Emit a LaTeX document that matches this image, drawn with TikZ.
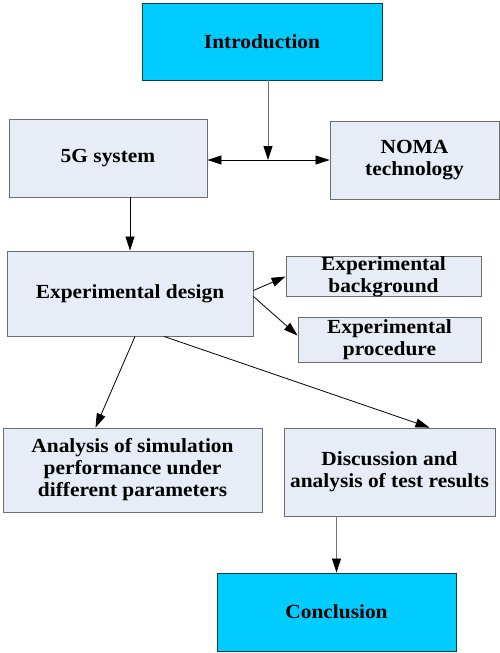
\documentclass[tikz,border=0pt]{standalone}
\usepackage{fontspec}
\setmainfont{Liberation Serif}[FakeStretch=1.07]
\usetikzlibrary{arrows.meta}
\definecolor{cyanbox}{RGB}{0,204,255}
\definecolor{lightbox}{RGB}{231,236,247}
\definecolor{edgegray}{RGB}{110,110,110}
\tikzset{
  box/.style={draw=edgegray, line width=0.9pt, fill=lightbox, align=center,
    font=\fontsize{20}{22}\selectfont\bfseries, inner sep=0pt},
  keybox/.style={box, fill=cyanbox, draw=black!70!cyanbox},
  arr/.style={-{Triangle[length=14pt,width=9pt]}, line width=0.8pt, black},
  grayarr/.style={-{Triangle[length=14pt,width=9pt,color=black]}, line width=0.8pt, draw=black!55}
}
\begin{document}
\begin{tikzpicture}[x=1pt,y=-1pt]
\useasboundingbox (0,0) rectangle (500,653);
\node[keybox, minimum width=240pt, minimum height=77pt] (intro) at (262,41.5) {Introduction};
\node[box, minimum width=198pt, minimum height=78pt] (g5) at (108,158) {5G system};
\node[box, minimum width=169pt, minimum height=78pt] (noma) at (414.5,160) {NOMA\\technology};
\node[box, minimum width=246pt, minimum height=85pt] (design) at (130,293.5) {Experimental design};
\node[box, minimum width=195pt, minimum height=39pt] (bg) at (383.5,276.5) {Experimental\\background};
\node[box, minimum width=183pt, minimum height=45pt] (proc) at (389.5,339.5) {Experimental\\procedure};
\node[box, minimum width=259pt, minimum height=84pt] (analysis) at (132.5,470) {Analysis of simulation\\performance under\\different parameters};
\node[box, minimum width=211pt, minimum height=88pt] (disc) at (389.5,472) {Discussion and\\analysis of test results};
\node[keybox, minimum width=239pt, minimum height=78pt] (concl) at (336.5,612) {Conclusion};
\coordinate (junction) at (268,160);
\draw[grayarr] (intro.south -| junction) -- (junction);
\draw[arr] (junction) -- (g5.east |- junction);
\draw[arr] (junction) -- (noma.west |- junction);
\draw[arr] (design.north |- g5.south) -- (design.north);
\draw[arr] ([yshift=3pt]design.east) -- (bg.west);
\draw[arr] ([yshift=-3pt]design.east) -- ([yshift=4pt]proc.west);
\draw[arr] ([xshift=5pt]design.south) -- ([xshift=-37pt]analysis.north);
\draw[arr] ([xshift=34pt]design.south) -- ([xshift=40pt]disc.north);
\draw[grayarr] (disc.south -| concl.north) -- (concl.north);
\end{tikzpicture}
\end{document}
